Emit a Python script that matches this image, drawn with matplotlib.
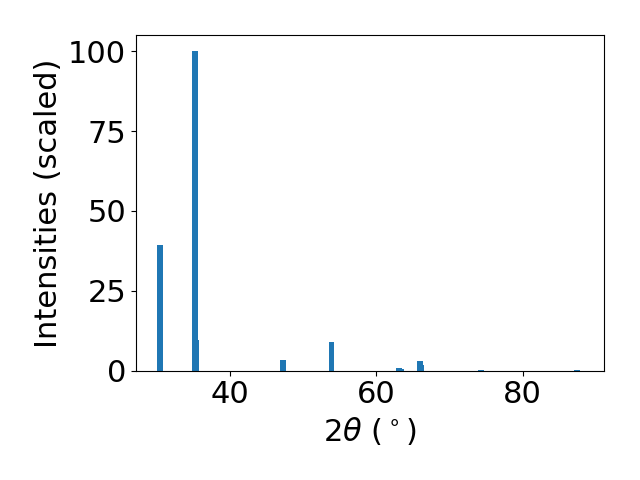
import matplotlib
matplotlib.use("Agg")
import matplotlib.pyplot as plt

two_theta = [30.43, 35.22, 35.36, 47.24, 53.87, 63.1, 63.37, 65.97, 66.1, 74.37, 87.42]
intensity = [39.2, 100.0, 9.6, 3.5, 9.0, 1.0, 0.4, 3.1, 1.9, 0.3, 0.3]

plt.rcParams['font.size'] = 22
fig, ax = plt.subplots(figsize=(6.4, 4.8), dpi=100)
ax.bar(two_theta, intensity, width=0.8, color='#1f77b4')
ax.set_xlabel(r"$2\theta$ ($^\circ$)")
ax.set_ylabel("Intensities (scaled)")
ax.set_yticks([0, 25, 50, 75, 100])
ax.set_xlim(27.15, 91.2)
fig.subplots_adjust(left=0.2125, right=0.9445, bottom=0.2277, top=0.9265)
fig.savefig("out.png", dpi=100)
